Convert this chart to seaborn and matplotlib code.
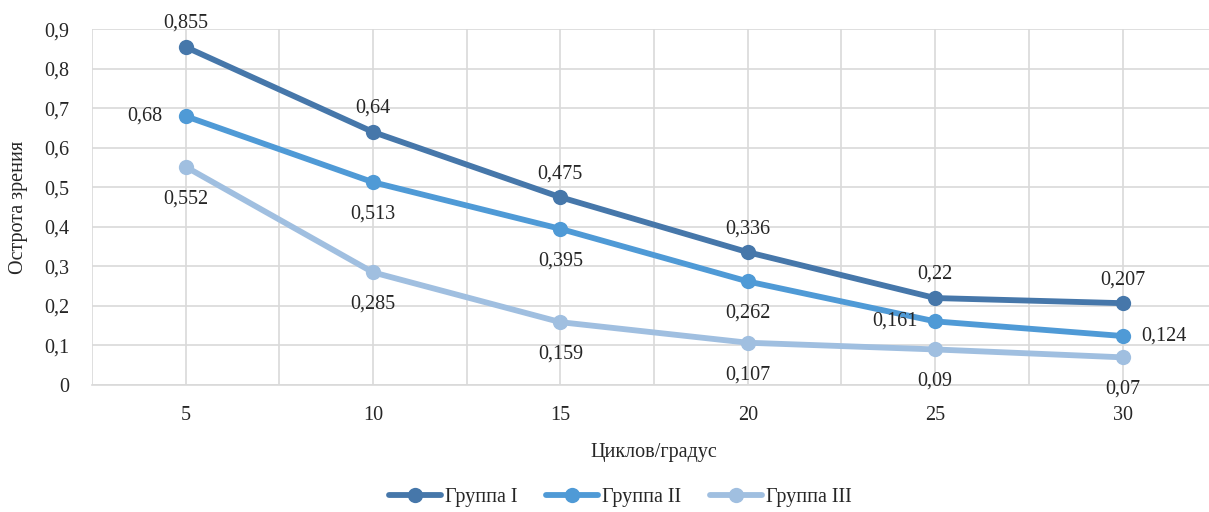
import matplotlib
matplotlib.use("Agg")
import matplotlib.pyplot as plt
import seaborn as sns
import pandas as pd
import numpy as np

cycles = [5, 10, 15, 20, 25, 30]
group_names = ["Группа I", "Группа II", "Группа III"]
g1 = [0.855, 0.64, 0.475, 0.336, 0.22, 0.207]
g2 = [0.68, 0.513, 0.395, 0.262, 0.161, 0.124]
g3 = [0.552, 0.285, 0.159, 0.107, 0.09, 0.07]
colors = ["#4677AA", "#4F9AD6", "#A0BFE0"]

sns.set_theme(style="whitegrid")
plt.rcParams['font.family'] = ['Liberation Serif', 'DejaVu Serif']

rows = []
for name, vals in zip(group_names, [g1, g2, g3]):
    for i, (c, v) in enumerate(zip(cycles, vals)):
        rows.append({"idx": i, "Циклов/градус": c, "value": v, "group": name})
df = pd.DataFrame(rows)

fig = plt.figure(figsize=(12.09, 5.12), dpi=100)
ax = fig.add_axes([0.076, 0.248, 0.93, 0.695])

sns.lineplot(data=df, x="idx", y="value", hue="group", palette=colors,
             marker="o", markersize=11, markeredgewidth=0, linewidth=4.2,
             ax=ax, legend=True)

def fmt(v):
    return f"{v:g}".replace(".", ",")

FS = 14.5
# label placements: (dx, dy) in points
offsets = {
    0: [(0, 17)] * 6,
    1: [(-29, 0), (0, -23), (0, -23), (0, -23), (-29, 0), (30, 0)],
    2: [(0, -23)] * 6,
}
for gi, vals in enumerate([g1, g2, g3]):
    for i, v in enumerate(vals):
        dx, dy = offsets[gi][i]
        ax.annotate(fmt(v), (i, v), xytext=(dx, dy), textcoords="offset points",
                    ha="center", va="center", fontsize=FS, color="#262626")

ax.set_xlim(-0.5, 5.5)
ax.set_ylim(0, 0.9)
yt = np.arange(0, 0.91, 0.1)
ax.set_yticks(yt)
ax.set_yticklabels([fmt(round(t, 1)) if t > 0 else "0" for t in yt])
xt = np.arange(-0.5, 5.6, 0.5)
ax.set_xticks(xt)
ax.set_xticklabels([str(cycles[int(t)]) if float(t).is_integer() else "" for t in xt])
ax.tick_params(axis="both", length=0, labelsize=FS, colors="#262626")
ax.tick_params(axis="x", pad=15)
ax.tick_params(axis="y", pad=16)
ax.grid(True, color="#D9D9D9", linewidth=1.2)
for s in ["top", "right", "left"]:
    ax.spines[s].set_visible(False)
ax.spines["bottom"].set_color("#D9D9D9")
ax.spines["bottom"].set_linewidth(1.2)
ax.set_xlabel("Циклов/градус", fontsize=FS, color="#262626", labelpad=13)
ax.set_ylabel("Острота зрения", fontsize=FS, color="#262626", labelpad=12)

handles, labels = ax.get_legend_handles_labels()
ax.legend(handles, labels, loc="center", bbox_to_anchor=(0.513, 0.028),
          bbox_transform=fig.transFigure, ncol=3, frameon=False, fontsize=FS,
          handlelength=2.6, columnspacing=1.4, handletextpad=0.2)

fig.savefig("out.png", dpi=100)
